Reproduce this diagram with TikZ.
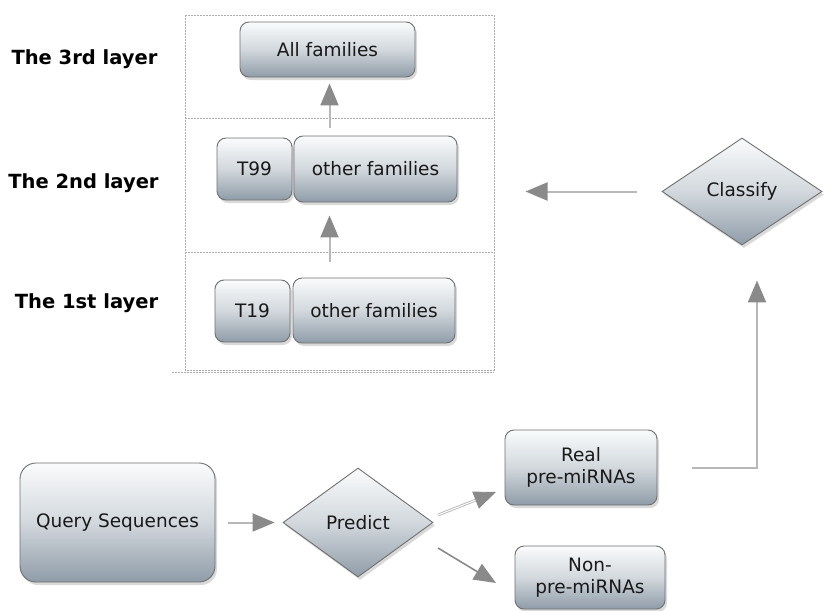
\documentclass[tikz,border=0pt]{standalone}
\usepackage{fontspec}
\setmainfont{DejaVu Sans}
\usetikzlibrary{shapes.geometric,shadows,arrows.meta}
\definecolor{boxtop}{HTML}{FAFBFC}
\definecolor{boxmid}{HTML}{D2D8DD}
\definecolor{boxbot}{HTML}{8F9CA8}
\definecolor{boxline}{HTML}{707070}
\definecolor{arrline}{HTML}{B8B8B8}
\definecolor{arrhead}{HTML}{8A8A8A}
\definecolor{frameline}{HTML}{ACACAC}
\tikzset{
  fillbox/.style={draw=boxline, line width=0.9pt, top color=boxtop, bottom color=boxbot, middle color=boxmid,
    drop shadow={shadow xshift=2pt, shadow yshift=-3pt, opacity=0.3},
    font=\fontsize{18.5}{22}\selectfont, text=black!90, align=center, inner sep=0pt},
  rbox/.style={fillbox, rectangle, rounded corners=9pt},
  dbox/.style={fillbox, diamond},
  arr/.style={draw=arrline, line width=2pt,
    -{Triangle[length=22pt,width=18pt,fill=arrhead,color=arrhead]}},
  frame/.style={draw=frameline, line width=0.7pt, dash pattern=on 2pt off 1pt},
  lay/.style={font=\bfseries\fontsize{19.5}{22}\selectfont, text=black}
}
\begin{document}
\begin{tikzpicture}[x=1pt,y=-1pt]
\useasboundingbox (0,0) rectangle (824,610);
% frame
\draw[frame] (185,15) rectangle (494,370);
\draw[frame] (172,372) -- (494,372);
\draw[frame] (185,118) -- (494,118);
\draw[frame] (185,252) -- (494,252);
% layer labels
\node[lay] (l3) at (84.5,59) {The 3rd layer};
\node[lay] (l2) at (83.5,183) {The 2nd layer};
\node[lay] (l1) at (86.5,303) {The 1st layer};
% layer boxes
\node[rbox, minimum width=175pt, minimum height=55pt] (allf) at (327.5,49.5) {All families};
\node[rbox, minimum width=75pt, minimum height=62pt] (t99) at (254.5,169) {T99};
\node[rbox, minimum width=163pt, minimum height=66pt] (of2) at (375.5,169) {other families};
\node[rbox, minimum width=75pt, minimum height=62pt] (t19) at (252.5,311) {T19};
\node[rbox, minimum width=162pt, minimum height=65pt] (of1) at (374,310.5) {other families};
% bottom flow
\node[rbox, rounded corners=16pt, minimum width=195pt, minimum height=119pt] (query) at (117.5,522.5) {Query Sequences};
\node[dbox, minimum width=150pt, minimum height=109pt] (predict) at (358,522.5) {Predict};
\node[rbox, minimum width=152pt, minimum height=75pt] (real) at (581,467.5) {Real\\pre-miRNAs};
\node[rbox, minimum width=150pt, minimum height=63pt] (non) at (590,577.5) {Non-\\pre-miRNAs};
\node[dbox, minimum width=160pt, minimum height=107pt] (classify) at (742,191.5) {Classify};
% connectors
\draw[arr, shorten <=8pt, shorten >=6pt] ([xshift=2pt]allf.south |- of2.north) -- ([xshift=2pt]allf.south);
\draw[arr, shorten <=16pt, shorten >=13pt] ([xshift=2pt]allf.south |- of1.north) -- ([xshift=2pt]allf.south |- of2.south);
\draw[arr, shorten <=13pt, shorten >=8pt] (query.east |- predict.west) -- (predict.west);
\coordinate (pr1) at (438,515);
\coordinate (pr2) at (496,492);
\coordinate (pn1) at (438,548);
\coordinate (pn2) at (496,583);
\draw[arr, double=white, double distance=1pt, line width=0.9pt] (pr1) -- (pr2);
\draw[arr, draw=arrhead, line width=1.6pt] (pn1) -- (pn2);
\coordinate (rc) at (757,467.5);
\draw[arr, shorten <=35pt, shorten >=35pt] (real.east) -- (rc) -- (rc |- classify.south);
\draw[arr, shorten <=25pt, shorten >=198pt] (classify.west) -- (classify.west -| allf.south);
\end{tikzpicture}
\end{document}
